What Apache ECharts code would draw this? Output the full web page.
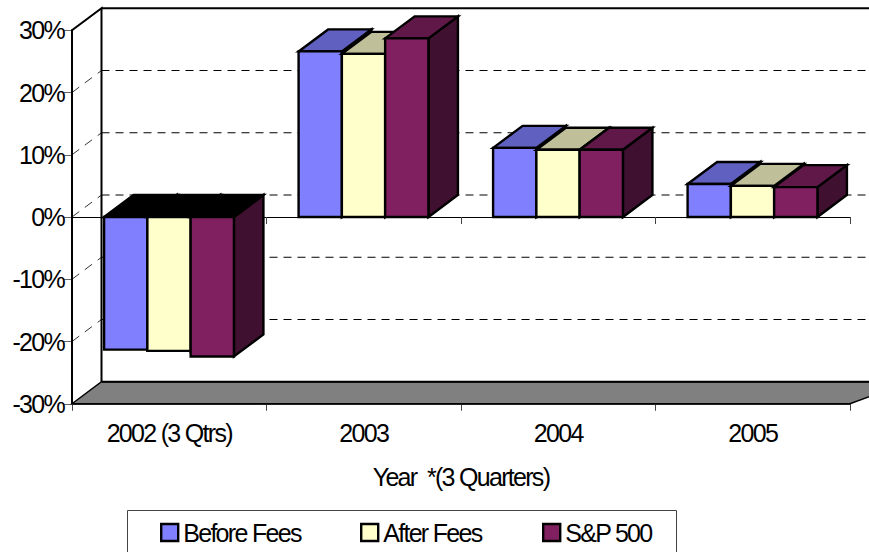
<!DOCTYPE html>
<html><head><meta charset="utf-8">
<script src="https://cdn.jsdelivr.net/npm/echarts@6/dist/echarts.min.js"></script>
<style>html,body{margin:0;padding:0;background:#fff;overflow:hidden}#c{width:869px;height:552px}
#c text{letter-spacing:-1.7px}</style></head><body><div id="c"></div>
<script>
const categories=['2002 (3 Qtrs)','2003','2004','2005'];
const beforeFees=[-21.3,26.6,11.1,5.3];
const afterFees=[-21.5,26.2,10.8,5.0];
const sp500=[-22.4,28.7,10.8,4.8];
const valueTicks=[-20,-10,0,10,20];

const DX=29.5,DY=22;
const seriesLooks=[
 {name:'Before Fees',data:beforeFees,front:'#8080FF',top:'#6060C0',side:'#404080'},
 {name:'After Fees',data:afterFees,front:'#FFFFCC',top:'#BFBF99',side:'#808066'},
 {name:'S&P 500',data:sp500,front:'#802060',top:'#601848',side:'#401030'}];

function barRender(look,idx){
 return function(params,api){
  const cat=api.value(0),v=api.value(1);
  const p=api.coord([cat,v]),z=api.coord([cat,0]);
  const band=api.size([1,0])[0];
  const w=band*0.2225;
  const x0=p[0]-band/2+band*0.165+idx*w,x1=x0+w;
  const yTop=Math.min(p[1],z[1]),yBot=Math.max(p[1],z[1]);
  const st={stroke:'#000',lineWidth:2.4,lineJoin:'miter'};
  return {type:'group',children:[
   {type:'polygon',shape:{points:[[x1,yTop],[x1+DX,yTop-DY],[x1+DX,yBot-DY],[x1,yBot]]},style:{fill:look.side,...st}},
   {type:'polygon',shape:{points:[[x0,yTop],[x0+DX,yTop-DY],[x1+DX,yTop-DY],[x1,yTop]]},style:{fill:v<0?'#000':look.top,...st}},
   {type:'rect',shape:{x:x0,y:yTop,width:w,height:yBot-yTop},style:{fill:look.front,...st}}
  ]};
 };
}
const wallSeries={type:'custom',name:'walls',silent:true,z:1,data:[[0,0]],encode:{x:0,y:1},
 renderItem(params,api){
  const c=params.coordSys,l=c.x,t=c.y,b=c.y+c.height,r=c.x+c.width;
  const st={stroke:'#000',lineWidth:2,fill:'none'};
  return {type:'group',children:[
   {type:'polygon',shape:{points:[[l,b],[l+DX,b-DY],[r+60,b-DY],[r+60,b-DY],[r,b]]},style:{fill:'#808080',stroke:'#000',lineWidth:1.5}},
   {type:'line',shape:{x1:l+DX,y1:b-DY,x2:r+60,y2:b-DY},style:{stroke:'#000',lineWidth:2}},
   {type:'polyline',shape:{points:[[l,b],[l,t],[l+DX,t-DY],[l+DX,b-DY]]},style:st},
   {type:'line',shape:{x1:l+DX,y1:t-DY,x2:r+60,y2:t-DY},style:{stroke:'#000',lineWidth:2}}
  ]};
 }};
const gridSeries={type:'custom',name:'grid',silent:true,z:1,data:valueTicks.map(v=>[0,v]),encode:{x:0,y:1},
 renderItem(params,api){
  const c=params.coordSys,y=api.coord([0,api.value(1)])[1];
  const st={stroke:'#000',lineWidth:1,lineDash:[8,6]};
  return {type:'group',children:[
   {type:'line',shape:{x1:c.x,y1:y,x2:c.x+DX,y2:y-DY},style:{stroke:'#000',lineWidth:.8,lineDash:[9,7]}},
   {type:'line',shape:{x1:c.x+DX,y1:y-DY,x2:c.x+c.width+60,y2:y-DY},style:st}
  ]};
 }};
const font='"Liberation Sans",Arial,sans-serif';
const legendBase={orient:'horizontal',top:520,padding:0,itemWidth:17,itemHeight:17,selectedMode:false,
  textStyle:{fontFamily:font,fontSize:25,color:'#000'}};
const chart=echarts.init(document.getElementById('c'),null,{renderer:'svg'});
chart.setOption({
 animation:false,backgroundColor:'#fff',
 grid:{left:72,right:19,top:30.25,bottom:148.25,containLabel:false},
 xAxis:[
  {type:'category',data:categories,position:'bottom',
   axisLine:{onZero:false,lineStyle:{color:'#000',width:1.5}},
   axisTick:{show:true,alignWithLabel:false,length:7,lineStyle:{color:'#444',width:1}},
   axisLabel:{fontFamily:font,fontSize:25,color:'#000',margin:17,interval:0},
   name:'Year  *(3 Quarters)',nameLocation:'middle',nameGap:61,
   nameTextStyle:{fontFamily:font,fontSize:25,color:'#000'},splitLine:{show:false}},
  {type:'category',data:categories,position:'top',
   axisLine:{onZero:true,lineStyle:{color:'#000',width:1}},
   axisTick:{show:true,inside:true,length:7,lineStyle:{color:'#444',width:1}},
   axisLabel:{show:false},splitLine:{show:false}}
 ],
 yAxis:{type:'value',min:-30,max:30,interval:10,
  axisLine:{show:true,onZero:false,lineStyle:{color:'#000',width:2}},
  axisTick:{show:true,length:8,lineStyle:{color:'#666',width:1}},
  axisLabel:{fontFamily:font,fontSize:25,color:'#000',margin:8,formatter:'{value}%'},
  splitLine:{show:false}},
 legend:seriesLooks.map((s,i)=>({...legendBase,left:[160,360,542][i],
   data:[{name:s.name,icon:'rect',itemStyle:{color:s.front,borderColor:'#000',borderWidth:2.4}}]})),
 graphic:[{type:'rect',z:-1,shape:{x:127.5,y:510.5,width:549,height:60},style:{fill:'#fff',stroke:'#444',lineWidth:1}}],
 series:[wallSeries,gridSeries,...seriesLooks.map((s,i)=>({
   type:'custom',name:s.name,z:3+i,itemStyle:{color:s.front},
   data:s.data.map((v,j)=>[j,v]),encode:{x:0,y:1},renderItem:barRender(s,i)}))]
});
</script></body></html>
